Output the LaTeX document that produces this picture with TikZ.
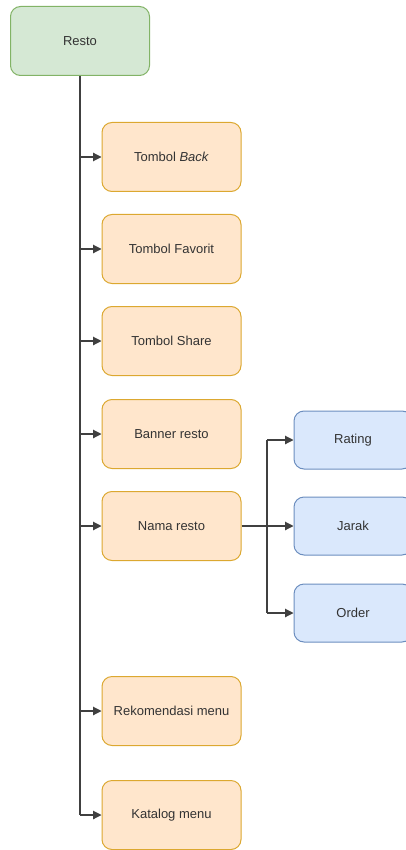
\documentclass[tikz,border=0pt]{standalone}
\usepackage{fontspec}
\setmainfont{Liberation Sans}
\usetikzlibrary{arrows.meta}
\definecolor{greenfill}{HTML}{D5E8D4}
\definecolor{greenline}{HTML}{82B366}
\definecolor{orangefill}{HTML}{FFE6CC}
\definecolor{orangeline}{HTML}{DCA830}
\definecolor{bluefill}{HTML}{DAE8FC}
\definecolor{blueline}{HTML}{6C8EBF}

\begin{document}
\begin{tikzpicture}
	[x=1pt,y=-1pt,every node/.style={rounded corners=10pt, draw, line width=1pt, text=black!80, font=\fontsize{13}{15}\selectfont, inner sep=0pt}]
	\tikzstyle{edges} = [line width=1.1pt, draw=black!75];
	\tikzstyle{arr} = [edges, -{Triangle[length=8.5pt,width=8.5pt]}];
	\tikzstyle{root} = [fill=greenfill, draw=greenline, minimum width=139pt, minimum height=69pt];
	\tikzstyle{item} = [fill=orangefill, draw=orangeline, minimum width=139pt, minimum height=69pt];
	\tikzstyle{sub} = [fill=bluefill, draw=blueline, minimum width=118pt, minimum height=58pt];

	\useasboundingbox (0,0) rectangle (405,850);

	\node[root] (resto) at (80,41) {Resto};
	\node[item] (back) at (171.5,157) {Tombol \textit{Back}};
	\node[item] (favorit) at (171.5,249) {Tombol Favorit};
	\node[item] (share) at (171.5,341) {Tombol Share};
	\node[item] (banner) at (171.5,434) {Banner resto};
	\node[item] (nama) at (171.5,526) {Nama resto};
	\node[item] (rekom) at (171.5,711) {Rekomendasi menu};
	\node[item] (katalog) at (171.5,815) {Katalog menu};
	\node[sub] (rating) at (353,440) {Rating};
	\node[sub] (jarak) at (353,526) {Jarak};
	\node[sub] (order) at (353,613) {Order};

	\coordinate (t1) at (80,157);
	\coordinate (t2) at (80,249);
	\coordinate (t3) at (80,341);
	\coordinate (t4) at (80,434);
	\coordinate (t5) at (80,526);
	\coordinate (t6) at (80,711);
	\coordinate (t7) at (80,815);
	\coordinate (b0) at (267,526);
	\coordinate (b1) at (267,440);
	\coordinate (b2) at (267,613);

	\draw[edges] (resto.south) -- (t7);
	\draw[arr] (t1) -- (back.west);
	\draw[arr] (t2) -- (favorit.west);
	\draw[arr] (t3) -- (share.west);
	\draw[arr] (t4) -- (banner.west);
	\draw[arr] (t5) -- (nama.west);
	\draw[arr] (t6) -- (rekom.west);
	\draw[arr] (t7) -- (katalog.west);
	\draw[arr] (nama.east) -- (jarak.west);
	\draw[edges] (b1) -- (b2);
	\draw[arr] (b1) -- (rating.west);
	\draw[arr] (b2) -- (order.west);
\end{tikzpicture}
\end{document}
